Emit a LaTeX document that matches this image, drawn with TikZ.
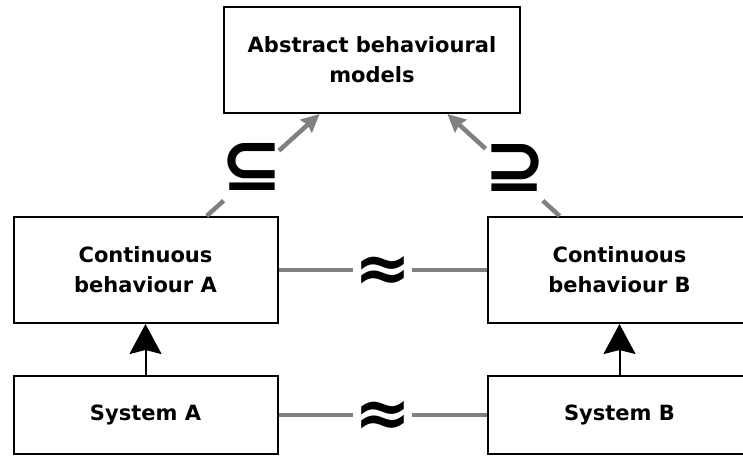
\documentclass[tikz,border=0pt]{standalone}
\usepackage{fontspec}
\setmainfont{DejaVu Sans}
\newfontfamily\symfont{DejaVu Sans}
\usetikzlibrary{arrows.meta,calc}
\begin{document}
\begin{tikzpicture}[x=1pt,y=-1pt,
  box/.style={draw=black, line width=2pt, align=center, inner sep=0pt,
    font=\fontsize{21}{30}\selectfont\bfseries},
  grayline/.style={draw=gray, line width=4.5pt},
  grayarrow/.style={grayline, -{Stealth[length=18pt,width=17pt,inset=2pt]}},
  blackarrow/.style={draw=black, line width=2pt, -{Stealth[length=30pt,width=32pt,inset=4pt]}},
  rel/.style={font=\symfont\bfseries\fontsize{74}{74}\selectfont, inner sep=0pt},
  approx/.style={fill=white, inner xsep=1.5pt, inner ysep=0pt, yshift=-4pt,
    font=\symfont\bfseries\fontsize{68}{68}\selectfont},
]
\useasboundingbox (0,0) rectangle (743,455);
\fill[white] (0,0) rectangle (743,455);

% boxes
\node[box, minimum width=296pt, minimum height=106pt] (top) at (372,60) {Abstract behavioural\\models};
\node[box, minimum width=264pt, minimum height=106pt] (contA) at (145.5,270) {Continuous\\behaviour A};
\node[box, minimum width=264pt, minimum height=106pt] (contB) at (619.5,270) {Continuous\\behaviour B};
\node[box, minimum width=264pt, minimum height=78pt] (sysA) at (145.5,415) {System A};
\node[box, minimum width=264pt, minimum height=78pt] (sysB) at (619.5,415) {System B};

% systems give rise to continuous behaviour
\draw[blackarrow] (sysA) -- (contA);
\draw[blackarrow] (sysB) -- (contB);

% equivalence between the two sides
\draw[grayline] (contA) -- node[approx]{≈} (contB);
\draw[grayline] (sysA) -- node[approx]{≈} (sysB);

% abstraction towards the top model
\coordinate (pa) at ($(contA.north west)!0.73!(contA.north east)$);
\coordinate (qa) at ($(top.south west)!0.324!(top.south east)$);
\draw[grayline] (pa) -- ($(pa)!0.15!(qa)$);
\draw[grayarrow] ($(pa)!0.64!(qa)$) -- (qa);
\node[rel] (suba) at (251,167) {⊆};

\coordinate (pb) at ($(contB.north west)!0.275!(contB.north east)$);
\coordinate (qb) at ($(top.south west)!0.753!(top.south east)$);
\draw[grayline] (pb) -- ($(pb)!0.15!(qb)$);
\draw[grayarrow] ($(pb)!0.66!(qb)$) -- (qb);
\node[rel] (supb) at (515,168) {⊇};
\end{tikzpicture}
\end{document}
